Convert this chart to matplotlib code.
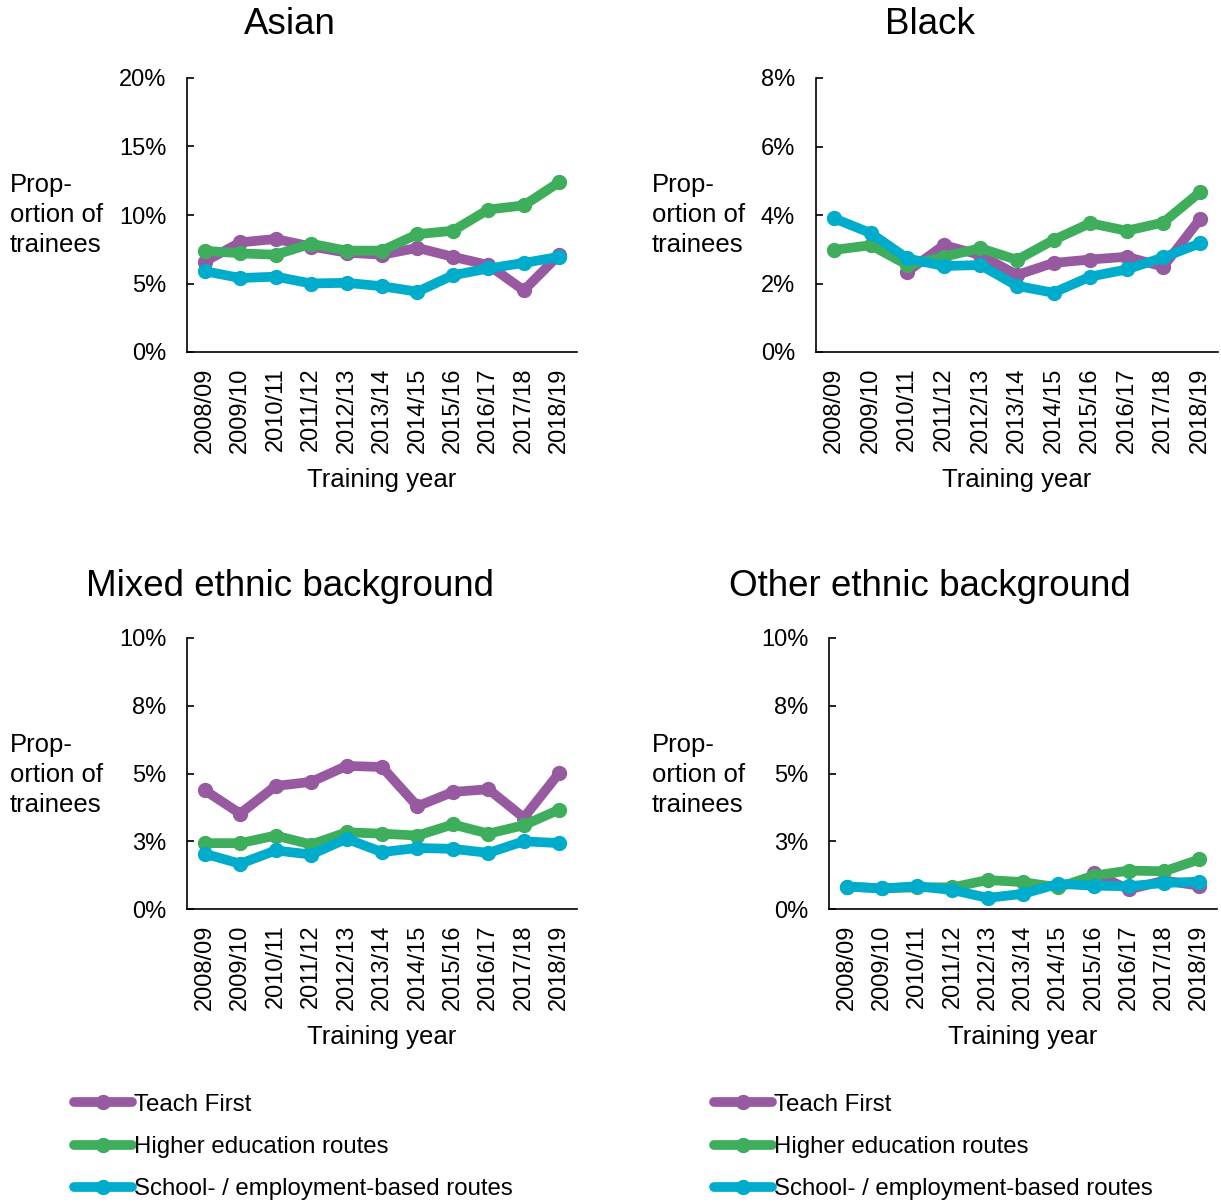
import matplotlib
matplotlib.use("Agg")
import matplotlib.pyplot as plt
import numpy as np

plt.rcParams['font.family'] = ['Liberation Sans', 'DejaVu Sans']

years = ["2008/09", "2009/10", "2010/11", "2011/12", "2012/13", "2013/14",
         "2014/15", "2015/16", "2016/17", "2017/18", "2018/19"]
series_names = ["Teach First", "Higher education routes", "School- / employment-based routes"]
colors = ["#975AA0", "#3EAE5C", "#00ACCC"]
nan = np.nan

# values in percent
asian_tf = [6.6, 8.0, 8.25, 7.7, 7.25, 7.1, 7.6, 6.95, 6.35, 4.5, 7.1]
asian_he = [7.4, 7.2, 7.1, 7.9, 7.4, 7.4, 8.6, 8.85, 10.4, 10.7, 12.4]
asian_sb = [5.9, 5.4, 5.5, 5.0, 5.05, 4.8, 4.4, 5.6, 6.1, 6.5, 6.95]

black_tf = [nan, nan, 2.35, 3.12, 2.83, 2.25, 2.6, 2.7, 2.78, 2.49, 3.87]
black_he = [2.98, 3.12, 2.54, 2.78, 3.03, 2.69, 3.27, 3.76, 3.54, 3.78, 4.66]
black_sb = [3.9, 3.47, 2.73, 2.51, 2.54, 1.93, 1.73, 2.2, 2.41, 2.76, 3.17]

mixed_tf = [4.38, 3.52, 4.54, 4.69, 5.28, 5.24, 3.79, 4.32, 4.42, 3.37, 5.02]
mixed_he = [2.43, 2.43, 2.71, 2.38, 2.83, 2.78, 2.71, 3.12, 2.78, 3.09, 3.67]
mixed_sb = [2.04, 1.67, 2.16, 2.01, 2.59, 2.1, 2.25, 2.22, 2.07, 2.5, 2.43]

other_tf = [nan, nan, nan, nan, nan, nan, nan, 1.33, 0.72, 1.05, 0.86]
other_he = [0.83, 0.76, 0.8, 0.8, 1.07, 0.99, 0.8, 1.23, 1.42, 1.39, 1.83]
other_sb = [0.83, 0.76, 0.84, 0.7, 0.41, 0.56, 0.93, 0.86, 0.84, 0.96, 1.01]

W, H = 1221, 1202
fig = plt.figure(figsize=(W / 100, H / 100), dpi=100)

panels = [
    ("Asian", [asian_tf, asian_he, asian_sb], [0, 5, 10, 15, 20],
     ["0%", "5%", "10%", "15%", "20%"], (187, 577, 78, 352), 290, 25, 10),
    ("Black", [black_tf, black_he, black_sb], [0, 2, 4, 6, 8],
     ["0%", "2%", "4%", "6%", "8%"], (816, 1218, 78, 352), 930, 25, 652),
    ("Mixed ethnic background", [mixed_tf, mixed_he, mixed_sb], [0, 2.5, 5, 7.5, 10],
     ["0%", "3%", "5%", "8%", "10%"], (187, 577, 638, 909), 290, 587, 10),
    ("Other ethnic background", [other_tf, other_he, other_sb], [0, 2.5, 5, 7.5, 10],
     ["0%", "3%", "5%", "8%", "10%"], (829, 1217, 638, 909), 930, 587, 652),
]

x = np.arange(len(years))
for title, data, yt, ytl, (l, r, t, b), tx, ty, lx in panels:
    ax = fig.add_axes([l / W, 1 - b / H, (r - l) / W, (b - t) / H])
    for vals, c, name in zip(data, colors, series_names):
        ax.plot(x, vals, color=c, lw=7, marker='o', ms=10, label=name,
                solid_capstyle='round', solid_joinstyle='round')
    ax.set_xlim(-0.5, len(years) - 0.5)
    ax.set_ylim(yt[0], yt[-1])
    ax.set_yticks(yt)
    ax.set_yticklabels(ytl)
    ax.set_xticks(x)
    ax.set_xticklabels(years, rotation=90)
    ax.tick_params(axis='y', direction='in', length=5, width=1.2, pad=15, labelsize=17)
    ax.tick_params(axis='x', length=0, pad=11, labelsize=17)
    for s in ['top', 'right']:
        ax.spines[s].set_visible(False)
    for s in ['left', 'bottom']:
        ax.spines[s].set_linewidth(1.2)
    ax.set_xlabel("Training year", fontsize=18.5, labelpad=11)
    fig.text(tx / W, 1 - ty / H, title, fontsize=26.5, ha='center', va='center')
    fig.text(lx / W, 1 - (t + 137) / H, "Prop-\nortion of\ntrainees", fontsize=18.5,
             ha='left', va='center', linespacing=1.32)

for hx in [74, 714]:
    handles = [plt.Line2D([], [], color=c, lw=7, marker='o', ms=10, solid_capstyle='round')
               for c in colors]
    fig.legend(handles, series_names, loc='center left',
               bbox_to_anchor=(hx / W, 1 - 1147 / H), frameon=False, fontsize=17.3,
               handlelength=2.4, handletextpad=0.1, labelspacing=0.85,
               borderpad=0, borderaxespad=0)

fig.savefig("out.png", dpi=100)
